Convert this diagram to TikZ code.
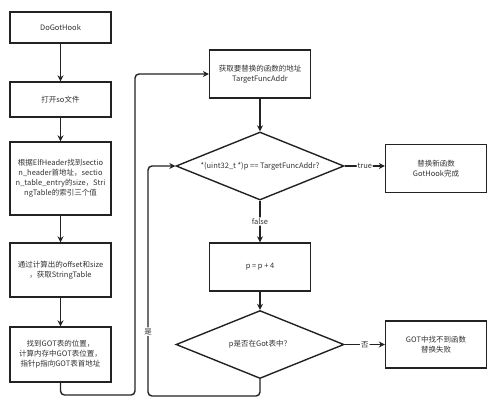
\documentclass[tikz,border=0pt]{standalone}
\usepackage{fontspec}
\setmainfont{Noto Sans CJK SC}
\usetikzlibrary{shapes.geometric,arrows.meta}
\definecolor{txt}{HTML}{333333}
\definecolor{ln}{HTML}{222222}
\tikzset{
  box/.style={draw=ln, line width=1.4pt, fill=white, minimum width=101pt, text=txt, align=center, font=\fontsize{7.5}{10}\selectfont, inner sep=1pt},
  dia/.style={draw=ln, line width=1.4pt, diamond, aspect=2.47, inner sep=0pt, minimum width=168pt, minimum height=68pt, text=txt, font=\fontsize{7.5}{10}\selectfont},
  conn/.style={draw=ln, line width=1.4pt, -{Stealth[length=6pt,width=6pt]}, rounded corners=4pt},
  lbl/.style={fill=white, text=txt, font=\fontsize{7.5}{10}\selectfont, inner sep=1pt}
}
\begin{document}
\begin{tikzpicture}[x=1pt,y=-1pt]
\useasboundingbox (0,0) rectangle (500,413);
\node[box, minimum height=31pt] (a) at (60.5,27.5) {DoGotHook};
\node[box, minimum height=35pt] (b) at (60.5,99.5) {打开so文件};
\node[box, minimum height=73pt] (c) at (60.5,178.5) {根据ElfHeader找到sectio\\n\_header首地址，sectio\\n\_table\_entry的size，Stri\\ngTable的索引三个值};
\node[box, minimum height=54pt] (d) at (60.5,270) {通过计算出的offset和size\\，获取StringTable};
\node[box, minimum height=55pt] (e) at (60.5,354.5) {找到GOT表的位置，\\计算内存中GOT表位置，\\指针p指向GOT表首地址};
\node[box, minimum height=48pt] (f) at (260,74) {获取要替换的函数的地址\\TargetFuncAddr};
\node[dia] (g) at (260,166) {*(uint32\_t *)p == TargetFuncAddr?};
\node[box, minimum height=48pt] (h) at (260,267) {p = p + 4};
\node[dia] (i) at (260,344.5) {p是否在Got表中？};
\node[box, minimum height=48pt] (j) at (436,168.5) {替换新函数\\GotHook完成};
\node[box, minimum height=47pt] (k) at (436,344.5) {GOT中找不到函数\\替换失败};
\draw[conn] (a) -- (b);
\draw[conn] (b) -- (c);
\draw[conn] (c) -- (d);
\draw[conn] (d) -- (e);
\draw[conn] (e.south) -- (60.5,395) -- (135,395) -- (135,74) -- (f.west);
\draw[conn] (f) -- (g);
\draw[conn] (g) -- node[lbl, pos=0.5] {false} (h);
\draw[conn] (h) -- (i);
\draw[conn] (g.east) -- node[lbl, pos=0.5] {true} (j.west |- g.east);
\draw[conn] (i.east) -- node[lbl] {否} (k.west);
\draw[conn] (i.south) -- (260,396) -- (148,396) -- node[lbl, pos=0.28] {是} (148,166) -- (g.west);
\end{tikzpicture}
\end{document}
